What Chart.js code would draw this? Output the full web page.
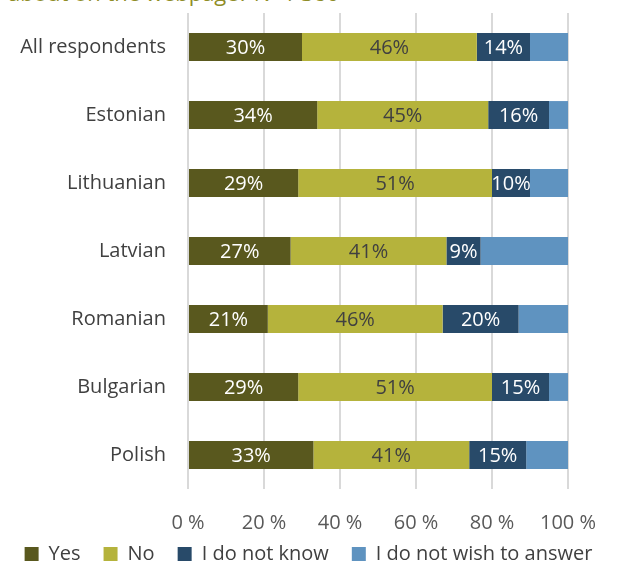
<!DOCTYPE html>
<html>
<head>
<meta charset="utf-8">
<script src="https://cdn.jsdelivr.net/npm/chart.js@4/dist/chart.umd.min.js"></script>
<style>
  html, body { margin: 0; padding: 0; background: #fff; overflow: hidden; }
  #wrap { position: relative; width: 617px; height: 564px; }
  #title {
    position: absolute; left: 8px; top: -20px; line-height: 24px; white-space: nowrap;
    font-family: "Open Sans", sans-serif; font-size: 22px; color: #8f8d28;
  }
  canvas { position: absolute; left: 0; top: 0; }
</style>
</head>
<body>
<div id="wrap">
  <div id="title">about on the webpage? N=1 380</div>
  <canvas id="chart" width="617" height="564"></canvas>
</div>
<script>
const categories = ["All respondents", "Estonian", "Lithuanian", "Latvian", "Romanian", "Bulgarian", "Polish"];
const yes        = [30, 34, 29, 27, 21, 29, 33];
const no         = [46, 45, 51, 41, 46, 51, 41];
const dontKnow   = [14, 16, 10, 9, 20, 15, 15];
const noAnswer   = [10, 5, 10, 23, 13, 5, 11];
const xTicks     = [0, 20, 40, 60, 80, 100];

const FONT = "'Open Sans', sans-serif";

// segment labels drawn in the middle of each bar piece
const segLabels = {
  id: "segLabels",
  afterDatasetsDraw(chart) {
    const ctx = chart.ctx;
    ctx.save();
    ctx.font = "20px " + FONT;
    ctx.textAlign = "center";
    ctx.textBaseline = "middle";
    chart.data.datasets.forEach((ds, i) => {
      if (!ds.labelColor) return;
      const meta = chart.getDatasetMeta(i);
      meta.data.forEach((bar, j) => {
        const x = (bar.x + bar.base) / 2;
        ctx.fillStyle = ds.labelColor;
        ctx.fillText(ds.data[j] + "%", x, bar.y + 1);
      });
    });
    ctx.restore();
  }
};

// legend starts a bit higher than its layout box so the tick labels keep room
const legendLift = {
  id: "legendLift",
  afterLayout(chart) {
    chart.legend.top -= 12;
    chart.legend.bottom = chart.height;
  }
};

new Chart(document.getElementById("chart"), {
  type: "bar",
  data: {
    labels: categories,
    datasets: [
      { label: "Yes", data: yes, backgroundColor: "#59581e", labelColor: "#ffffff" },
      { label: "No", data: no, backgroundColor: "#b5b33c", labelColor: "#404040" },
      { label: "I do not know", data: dontKnow, backgroundColor: "#284a69", labelColor: "#ffffff" },
      { label: "I do not wish to answer", data: noAnswer, backgroundColor: "#5f93c0" },
    ],
  },
  options: {
    indexAxis: "y",
    responsive: false,
    animation: false,
    layout: { padding: { top: 13, left: 0, right: 0, bottom: 0 } },
    datasets: { bar: { barPercentage: 0.41, categoryPercentage: 1, borderWidth: 0 } },
    plugins: {
      legend: {
        position: "bottom",
        maxHeight: 31,
        labels: {
          boxWidth: 14, boxHeight: 14, padding: 23,
          color: "#404040", font: { family: FONT, size: 20 },
        },
      },
      tooltip: { enabled: false },
    },
    scales: {
      x: {
        stacked: true, min: 0, max: 100,
        afterBuildTicks: (s) => { s.ticks = xTicks.map(v => ({ value: v })); },
        afterFit: (s) => { s.height = 44; s.paddingLeft = 0; s.paddingRight = 49; },
        grid: { color: "#d9d9d9", lineWidth: 2, drawTicks: false },
        border: { display: false },
        ticks: {
          padding: 22, color: "#595959", font: { family: FONT, size: 20 },
          callback: (v) => v + " %",
        },
      },
      y: {
        stacked: true,
        grid: { display: false, drawTicks: false },
        border: { display: false },
        afterFit: (s) => { s.width = 188; s.paddingTop = 0; s.paddingBottom = 0; },
        ticks: { padding: 22, color: "#404040", font: { family: FONT, size: 20 } },
      },
    },
  },
  plugins: [segLabels, legendLift],
});
</script>
</body>
</html>
